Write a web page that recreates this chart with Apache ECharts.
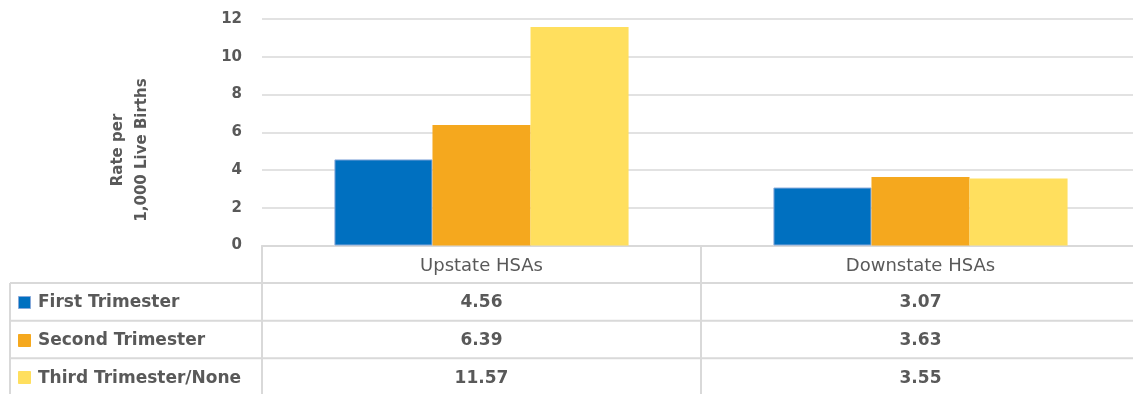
<!DOCTYPE html>
<html>
<head>
<meta charset="utf-8">
<script src="https://cdn.jsdelivr.net/npm/echarts@6/dist/echarts.min.js"></script>
<style>
  html, body { margin: 0; padding: 0; background: #ffffff; overflow: hidden; }
  #chart { width: 1133px; height: 394px; }
</style>
</head>
<body>
<div id="chart"></div>
<script>
// Prenatal care start rates, per 1,000 live births
const categories = ['Upstate HSAs', 'Downstate HSAs'];
const seriesNames = ['First Trimester', 'Second Trimester', 'Third Trimester/None'];
const firstTrimester = [4.56, 3.07];
const secondTrimester = [6.39, 3.63];
const thirdTrimester = [11.57, 3.55];
const yTicks = [0, 2, 4, 6, 8, 10, 12];
const yAxisTitle = 'Rate per\n1,000 Live Births';

const seriesValues = [firstTrimester, secondTrimester, thirdTrimester];
const colors = ['#0070C0', '#F5A81E', '#FFDF5E'];
const borders = ['#86A9DA', '#F5A81E', '#FFDF5E'];
const textColor = '#595959';
const lineColor = '#D9D9D9';
const fontFamily = '"DejaVu Sans", "Liberation Sans", sans-serif';

// data table layout (rows below the category axis)
const gridTop = 19, gridBottomY = 245.5, rowH = 37.6;
const tableLeft = 10;
const canvasW = 1133;

const chart = echarts.init(document.getElementById('chart'), null, { renderer: 'canvas' });

const option = {
  animation: false,
  backgroundColor: '#ffffff',
  grid: {
    left: 262, width: 878, top: gridTop, height: gridBottomY - gridTop,
    containLabel: false, outerBoundsMode: 'none'
  },
  xAxis: {
    type: 'category',
    data: categories,
    axisLine: { show: true, lineStyle: { color: lineColor, width: 2 } },
    axisTick: { show: false },
    axisLabel: { color: textColor, fontSize: 18, fontFamily: fontFamily, margin: 12 },
    splitLine: { show: false }
  },
  yAxis: {
    type: 'value',
    min: yTicks[0],
    max: yTicks[yTicks.length - 1],
    interval: yTicks[1] - yTicks[0],
    axisLine: { show: false },
    axisTick: { show: false },
    axisLabel: { color: textColor, fontSize: 15, fontWeight: 'bold', fontFamily: fontFamily, margin: 20 },
    splitLine: { show: true, lineStyle: { color: lineColor, width: 1.5 } }
  },
  series: seriesNames.map((name, i) => ({
    name: name,
    type: 'bar',
    data: seriesValues[i],
    barGap: '0%',
    barCategoryGap: '33%',
    itemStyle: { color: colors[i], borderColor: borders[i], borderWidth: i === 0 ? 1 : 0 }
  }))
};

chart.setOption(option);

// Data table: grid lines, legend keys and value cells under each category
function drawTable() {
  const centers = categories.map(cat => chart.convertToPixel({ xAxisIndex: 0 }, cat));
  const band = centers[1] - centers[0];
  const plotLeft = centers[0] - band / 2;
  const bottom = 394;
  const els = [];
  const ls = { stroke: lineColor, lineWidth: 2 };

  // vertical separators between the row header column and each category column
  for (let k = 0; k < categories.length; k++) {
    const x = Math.round(plotLeft + k * band);
    els.push({ type: 'line', shape: { x1: x, y1: gridBottomY, x2: x, y2: bottom }, style: ls, silent: true });
  }
  els.push({ type: 'line', shape: { x1: tableLeft, y1: gridBottomY + rowH, x2: tableLeft, y2: bottom }, style: ls, silent: true });

  // horizontal row separators
  for (let r = 1; r <= seriesNames.length; r++) {
    const y = gridBottomY + r * rowH;
    els.push({ type: 'line', shape: { x1: tableLeft, y1: y, x2: canvasW, y2: y }, style: ls, silent: true });
  }

  seriesValues.forEach((vals, r) => {
    const y = gridBottomY + (r + 1) * rowH + rowH / 2 + 1;
    // legend key and series name
    els.push({
      type: 'rect', silent: true,
      shape: { x: 18.5, y: Math.round(y - 7) + 0.5, width: 12, height: 12 },
      style: { fill: colors[r], stroke: r === 0 ? borders[r] : colors[r], lineWidth: 1 }
    });
    els.push({
      type: 'text', x: 38, y: y, silent: true,
      style: { text: seriesNames[r], fill: textColor, font: 'bold 17px ' + fontFamily, align: 'left', verticalAlign: 'middle' }
    });
    // value cells
    vals.forEach((v, ci) => {
      els.push({
        type: 'text', x: centers[ci], y: y, silent: true,
        style: { text: v.toFixed(2), fill: textColor, font: 'bold 17px ' + fontFamily, align: 'center', verticalAlign: 'middle' }
      });
    });
  });

  // y-axis title
  els.push({
    type: 'text', x: 130, y: 150, rotation: Math.PI / 2, silent: true,
    style: { text: yAxisTitle, fill: textColor, font: 'bold 15px ' + fontFamily, align: 'center', verticalAlign: 'middle', lineHeight: 24 }
  });

  chart.setOption({ graphic: els });
}
drawTable();
</script>
</body>
</html>
